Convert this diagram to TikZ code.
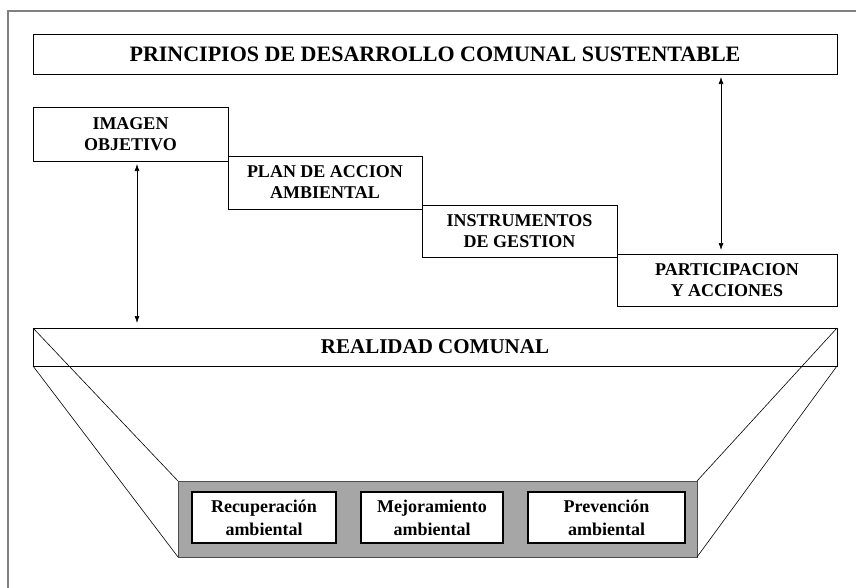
\documentclass[tikz,border=0pt]{standalone}
\usepackage{fontspec}
\setmainfont{Liberation Serif}
\usetikzlibrary{arrows.meta}
\begin{document}
\begin{tikzpicture}[x=1pt,y=1pt,
  box/.style={draw=black, line width=0.9pt, fill=white, inner sep=0pt, outer sep=0pt,
    anchor=north west, align=center, font=\bfseries\fontsize{18}{21}\selectfont},
  ibox/.style={draw=black, line width=1.6pt, fill=white, inner sep=0pt, outer sep=0pt,
    anchor=north west, align=center, font=\bfseries\fontsize{18}{23}\selectfont},
  dblarrow/.style={{Latex[length=7pt,width=5pt]}-{Latex[length=7pt,width=5pt]}, line width=0.7pt},
  edge/.style={line width=0.6pt}]
\useasboundingbox (0,0) rectangle (856,-587);
% outer frame
\draw[line width=1.2pt, draw=black!50] (8,-590) -- (8,-11) -- (860,-11);
% top box
\node[box, minimum width=804pt, minimum height=40pt, font=\bfseries\fontsize{22}{26}\selectfont] (prin) at (33,-34) {PRINCIPIOS DE DESARROLLO COMUNAL SUSTENTABLE};
% stair boxes
\node[box, minimum width=195pt, minimum height=54pt] (img) at (33,-107) {IMAGEN\\OBJETIVO};
\node[box, minimum width=194pt, minimum height=53pt] (plan) at (228,-156) {PLAN DE ACCION\\AMBIENTAL};
\node[box, minimum width=195pt, minimum height=52pt] (ins) at (422,-205) {INSTRUMENTOS\\DE GESTION};
\node[box, minimum width=220pt, minimum height=52pt] (part) at (617,-254) {PARTICIPACION\\Y ACCIONES};
% band
\node[box, minimum width=804pt, minimum height=38pt, font=\bfseries\fontsize{21}{25}\selectfont] (band) at (33,-328) {REALIDAD COMUNAL};
% gray base
\node[draw=black!70, line width=0.8pt, fill=black!35, inner sep=0pt, outer sep=0pt, anchor=north west,
  minimum width=519pt, minimum height=76pt] (base) at (178,-481) {};
\node[ibox, minimum width=144pt, minimum height=51pt] (rec) at (192,-492) {Recuperación\\ambiental};
\node[ibox, minimum width=142pt, minimum height=51pt] (mej) at (361,-492) {Mejoramiento\\ambiental};
\node[ibox, minimum width=157pt, minimum height=51pt] (pre) at (528,-492) {Prevención\\ambiental};
% funnel lines
\draw[edge] (band.north west) -- (base.north west);
\draw[edge] (band.south west) -- (base.south west);
\draw[edge] (band.north east) -- (base.north east);
\draw[edge] (band.south east) -- (base.south east);
% arrows
\coordinate (a1) at ([yshift=-3pt]img.south -| 137,0);
\coordinate (a2) at ([yshift=5pt]band.north -| 137,0);
\draw[dblarrow] (a1) -- (a2);
\coordinate (b1) at ([yshift=-3pt]prin.south -| 721,0);
\coordinate (b2) at ([yshift=4pt]part.north -| 721,0);
\draw[dblarrow] (b1) -- (b2);
\end{tikzpicture}
\end{document}
